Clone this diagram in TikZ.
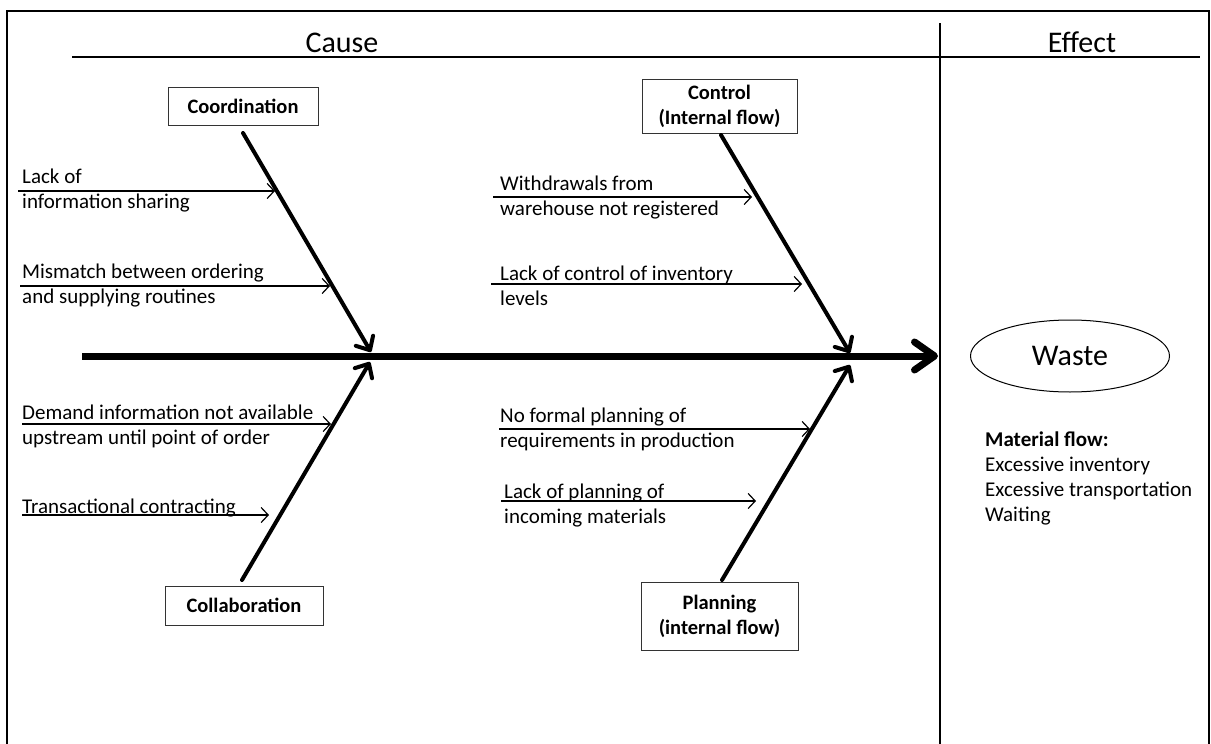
\documentclass[tikz,border=0pt]{standalone}
\usepackage{fontspec}
\setmainfont{Carlito}
\usetikzlibrary{arrows.meta,shapes.geometric}
\begin{document}
\begin{tikzpicture}[x=1pt,y=-1pt,
  lbl/.style={anchor=base west,inner sep=0pt,align=left,font=\fontsize{21}{25}\selectfont},
  boxn/.style={draw=black!80,line width=1pt,align=center,inner sep=0pt,font=\fontsize{20.5}{25}\selectfont\bfseries},
  bone/.style={line width=4pt,line cap=round,-{Straight Barb[length=11pt,width=20pt,round]}},
  subarrow/.style={line width=1.2pt,-{Straight Barb[length=7pt,width=15pt]}},
  head/.style={anchor=base,inner sep=0pt,font=\fontsize{30}{36}\selectfont}]
\useasboundingbox (0,0) rectangle (1211,744);
% frame
\coordinate (f1) at (7,800); \coordinate (f2) at (7,11); \coordinate (f3) at (1209,11); \coordinate (f4) at (1209,800);
\draw[line width=2pt] (f1) -- (f2) -- (f3) -- (f4);
\coordinate (h1) at (72,57); \coordinate (h2) at (1200,57);
\draw[line width=1.3pt] (h1) -- (h2);
\coordinate (d1) at (940,23); \coordinate (d2) at (940,760);
\draw[line width=1.5pt] (d1) -- (d2);
\node[head] (cause) at (342,52) {Cause};
\node[head] (effect) at (1082,52) {Effect};
% spine
\coordinate (sp0) at (82,356); \coordinate (sp1) at (938,356);
\draw[line width=7pt,-{Straight Barb[length=20pt,width=28pt,round]}] (sp0) -- (sp1);
% boxes
\node[boxn,minimum width=150pt,minimum height=38pt] (coord) at (243,106) {Coordination};
\node[boxn,minimum width=158pt,minimum height=39pt] (collab) at (244,605.5) {Collaboration};
\node[boxn,minimum width=155pt,minimum height=54pt] (control) at (719.5,106) {Control\\(Internal flow)};
\node[boxn,minimum width=157pt,minimum height=68pt] (plan) at (719.5,616) {Planning\\(internal flow)};
% bones
\coordinate (b1s) at (243,133); \coordinate (b1e) at (371,352);
\coordinate (b2s) at (242,580); \coordinate (b2e) at (370,362);
\coordinate (b3s) at (721,135); \coordinate (b3e) at (850,353);
\coordinate (b4s) at (722,580); \coordinate (b4e) at (850,365);
\draw[bone] (b1s) -- (b1e);
\draw[bone] (b2s) -- (b2e);
\draw[bone] (b3s) -- (b3e);
\draw[bone] (b4s) -- (b4e);
% sub arrows
\coordinate (a1s) at (18,191);  \coordinate (a1e) at (275,191);
\coordinate (a2s) at (20,286);  \coordinate (a2e) at (330,286);
\coordinate (a3s) at (22,424);  \coordinate (a3e) at (331,424);
\coordinate (a4s) at (22,515);  \coordinate (a4e) at (269,515);
\coordinate (a5s) at (493,197); \coordinate (a5e) at (752,197);
\coordinate (a6s) at (491,284); \coordinate (a6e) at (802,284);
\coordinate (a7s) at (499,429); \coordinate (a7e) at (810,429);
\coordinate (a8s) at (501,501); \coordinate (a8e) at (756,501);
\foreach \i in {1,...,8} {\draw[subarrow] (a\i s) -- (a\i e);}
% labels (anchor = baseline of last line)
\node[lbl] (l1) at (22,208) {Lack of\\information sharing};
\node[lbl] (l2) at (22,303) {Mismatch between ordering\\and supplying routines};
\node[lbl] (l3) at (22,444) {Demand information not available\\upstream until point of order};
\node[lbl] (l4) at (22,513) {Transactional contracting};
\node[lbl] (l5) at (500,215) {Withdrawals from\\warehouse not registered};
\node[lbl] (l6) at (500,305) {Lack of control of inventory\\levels};
\node[lbl] (l7) at (500,447) {No formal planning of\\requirements in production};
\node[lbl] (l8) at (504,523) {Lack of planning of\\incoming materials};
% effect
\node[ellipse,draw,line width=1pt,inner sep=0pt,minimum width=199pt,minimum height=72pt,font=\fontsize{30}{36}\selectfont] (waste) at (1070,356) {Waste};
\node[lbl] (mf) at (985,521) {\textbf{Material flow:}\\Excessive inventory\\Excessive transportation\\Waiting};
\end{tikzpicture}
\end{document}
